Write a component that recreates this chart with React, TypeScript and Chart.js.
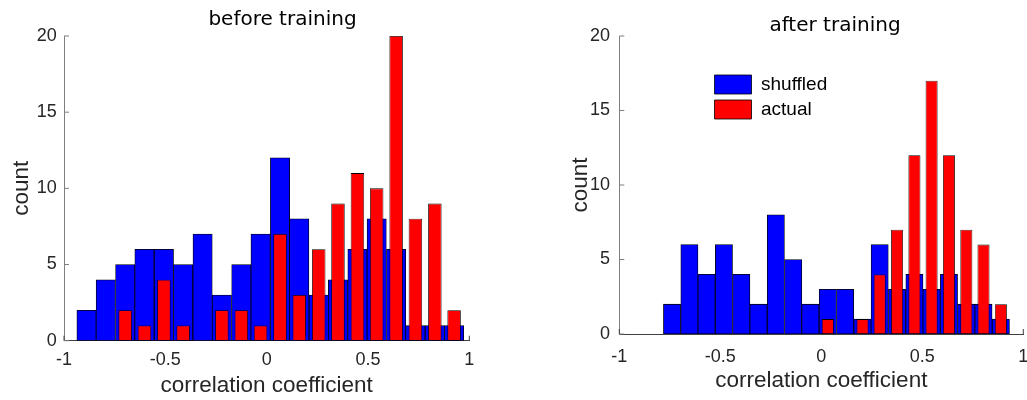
import React, { useEffect, useRef } from 'react';
import { Chart, registerables } from 'chart.js';

Chart.register(...registerables);

// ---------- data ----------
const seriesNames = ['shuffled', 'actual'];
const panelTitles = ['before training', 'after training'];
const xAxisLabel = 'correlation coefficient';
const yAxisLabel = 'count';
const xTickValues = [-1, -0.5, 0, 0.5, 1];
const xTickLabels = ['-1', '-0.5', '0', '0.5', '1'];
const yTickValues = [0, 5, 10, 15, 20];
const yTickLabels = ['0', '5', '10', '15', '20'];

const beforeBinCenters = [-0.889, -0.794, -0.698, -0.603, -0.507, -0.412, -0.316, -0.221, -0.125, -0.030,
  0.066, 0.161, 0.257, 0.352, 0.448, 0.543, 0.639, 0.734, 0.830, 0.925];
const beforeShuffled = [2, 4, 5, 6, 6, 5, 7, 3, 5, 7, 12, 8, 3, 4, 6, 8, 6, 1, 1, 1];
const beforeActual = [0, 0, 2, 1, 4, 1, 0, 2, 2, 1, 7, 3, 6, 9, 11, 10, 20, 8, 9, 2];

const afterBinCenters = [-0.739, -0.653, -0.568, -0.482, -0.396, -0.311, -0.225, -0.139, -0.054, 0.032,
  0.118, 0.204, 0.289, 0.375, 0.461, 0.546, 0.632, 0.718, 0.803, 0.889];
const afterShuffled = [2, 6, 4, 6, 4, 2, 8, 5, 2, 3, 3, 1, 6, 3, 4, 3, 4, 2, 2, 1];
const afterActual = [0, 0, 0, 0, 0, 0, 0, 0, 0, 1, 0, 1, 4, 7, 12, 17, 12, 7, 6, 2];

// ---------- styling / layout ----------
const SANS = "'Liberation Sans', Arial, Helvetica, sans-serif";
const TITLE_FONT = "'DejaVu Sans', sans-serif";
const H = 400;

interface PanelCfg {
  title: string;
  centers: number[];
  shuffled: number[];
  actual: number[];
  canvasLeft: number;
  canvasWidth: number;
  area: { left: number; right: number; top: number; bottom: number };
  titleCx: number;
  titleMid: number;
  yTitleMid: number;
  yTickPad: number;
  xTickMid: number;
  xTitleMid: number;
  legend?: { boxLeft: number; top: number };
}

const panels: PanelCfg[] = [
  {
    title: panelTitles[0],
    centers: beforeBinCenters,
    shuffled: beforeShuffled,
    actual: beforeActual,
    canvasLeft: 0,
    canvasWidth: 520,
    area: { left: 64, right: 469.3, top: 36, bottom: 340.7 },
    titleCx: 282.5,
    titleMid: 20.2,
    yTitleMid: 21.3,
    yTickPad: 7.3,
    xTickMid: 360.3,
    xTitleMid: 385.5,
  },
  {
    title: panelTitles[1],
    centers: afterBinCenters,
    shuffled: afterShuffled,
    actual: afterActual,
    canvasLeft: 520,
    canvasWidth: 507,
    area: { left: 99.3, right: 503.3, top: 36, bottom: 334 },
    titleCx: 315,
    titleMid: 25.8,
    yTitleMid: 60.5,
    yTickPad: 9.3,
    xTickMid: 357.2,
    xTitleMid: 380.5,
    legend: { boxLeft: 194.5, top: 75 },
  },
];

const innerTicks = {
  id: 'innerTicks',
  beforeDatasetsDraw(chart: any) {
    const { ctx, chartArea, scales } = chart;
    const len = 5;
    ctx.save();
    ctx.lineWidth = 1;
    ctx.strokeStyle = '#404040';
    scales.x.ticks.forEach((t: any) => {
      const px = scales.x.getPixelForValue(t.value);
      ctx.beginPath();
      ctx.moveTo(px, chartArea.bottom);
      ctx.lineTo(px, chartArea.bottom - len);
      ctx.stroke();
    });
    ctx.strokeStyle = '#7f7f7f';
    scales.y.ticks.forEach((t: any) => {
      const py = scales.y.getPixelForValue(t.value);
      ctx.beginPath();
      ctx.moveTo(chartArea.left, py);
      ctx.lineTo(chartArea.left + len, py);
      ctx.stroke();
    });
    ctx.restore();
  },
};

function Panel({ cfg }: { cfg: PanelCfg }) {
  const ref = useRef<HTMLCanvasElement>(null);

  useEffect(() => {
    const titleFontSize = 20;
    const titlePadTop = cfg.titleMid - titleFontSize / 2;
    const titlePadBottom = cfg.area.top - titleFontSize - titlePadTop;
    const axisTitleSize = 22.5;
    const tickSize = 18;

    const layoutPlugin = {
      id: 'panelLayout',
      afterLayout(chart: any) {
        const t = chart.titleBlock;
        if (t) {
          t.left = cfg.titleCx - 150;
          t.right = cfg.titleCx + 150;
        }
        const lg = chart.legend;
        if (lg && cfg.legend) {
          const pad = 6;
          lg.left = cfg.legend.boxLeft - pad;
          lg.right = lg.left + 250;
          lg.top = cfg.legend.top - pad;
          lg.bottom = lg.top + 120;
          lg.width = 250;
          lg.height = 120;
        }
      },
    };

    const chart = new Chart(ref.current as HTMLCanvasElement, {
      type: 'bar',
      data: {
        datasets: [
          {
            label: seriesNames[0],
            data: cfg.centers.map((c, i) => ({ x: c, y: cfg.shuffled[i] })),
            backgroundColor: '#0000ff',
            borderColor: '#000000',
            borderWidth: 0.8,
            borderSkipped: false,
            barPercentage: 1,
            categoryPercentage: 1,
            grouped: false,
            order: 2,
          } as any,
          {
            label: seriesNames[1],
            data: cfg.centers.map((c, i) => ({ x: c, y: cfg.actual[i] })),
            backgroundColor: '#ff0000',
            borderColor: '#000000',
            borderWidth: 0.8,
            borderSkipped: false,
            barPercentage: 0.7,
            categoryPercentage: 1,
            grouped: false,
            order: 1,
          } as any,
        ],
      },
      options: {
        responsive: false,
        animation: false,
        devicePixelRatio: 1,
        layout: {
          padding: { left: 0, top: 0, bottom: 0, right: cfg.canvasWidth - cfg.area.right },
        },
        plugins: {
          title: {
            display: true,
            text: cfg.title,
            color: '#000000',
            font: { family: TITLE_FONT, size: titleFontSize, lineHeight: 1, weight: 'normal' },
            padding: { top: titlePadTop, bottom: titlePadBottom },
          },
          legend: {
            display: !!cfg.legend,
            position: 'chartArea' as any,
            align: 'start',
            labels: {
              boxWidth: 37,
              boxHeight: 19,
              padding: 6,
              color: '#000000',
              font: { family: SANS, size: 19 },
              sort: (a: any, b: any) => a.datasetIndex - b.datasetIndex,
            },
          },
          tooltip: { enabled: false },
        },
        scales: {
          x: {
            type: 'linear',
            min: -1,
            max: 1,
            offset: false,
            afterBuildTicks: (s: any) => {
              s.ticks = xTickValues.map((v) => ({ value: v }));
            },
            afterFit: (s: any) => {
              s.height = H - cfg.area.bottom;
              s.paddingLeft = 0;
              s.paddingRight = 0;
            },
            grid: { display: false, drawTicks: false },
            border: { display: true, color: '#404040', width: 1 },
            ticks: {
              color: '#262626',
              font: { family: SANS, size: tickSize, lineHeight: 1.2 },
              padding: cfg.xTickMid - cfg.area.bottom - (tickSize * 1.2) / 2,
              maxRotation: 0,
              autoSkip: false,
              callback: (_v: any, i: number) => xTickLabels[i],
            },
            title: {
              display: true,
              text: xAxisLabel,
              color: '#262626',
              font: { family: SANS, size: axisTitleSize, lineHeight: 1 },
              padding: { top: 0, bottom: H - cfg.xTitleMid - axisTitleSize / 2 },
            },
          },
          y: {
            type: 'linear',
            min: 0,
            max: 20,
            afterBuildTicks: (s: any) => {
              s.ticks = yTickValues.map((v) => ({ value: v }));
            },
            afterFit: (s: any) => {
              s.width = cfg.area.left;
              s.paddingTop = 0;
              s.paddingBottom = 0;
            },
            grid: { display: false, drawTicks: false },
            border: { display: true, color: '#7f7f7f', width: 1 },
            ticks: {
              color: '#262626',
              font: { family: SANS, size: tickSize },
              padding: cfg.yTickPad,
              callback: (_v: any, i: number) => yTickLabels[i],
            },
            title: {
              display: true,
              text: yAxisLabel,
              color: '#262626',
              font: { family: SANS, size: axisTitleSize, lineHeight: 1 },
              padding: { top: cfg.yTitleMid - axisTitleSize / 2, bottom: 0 },
            },
          },
        },
      } as any,
      plugins: [innerTicks, layoutPlugin],
    });

    return () => chart.destroy();
  }, [cfg]);

  return (
    <canvas
      ref={ref}
      width={cfg.canvasWidth}
      height={H}
      style={{ position: 'absolute', left: cfg.canvasLeft, top: 0, width: cfg.canvasWidth, height: H }}
    />
  );
}

export default function App() {
  return (
    <div
      style={{
        position: 'absolute',
        left: 0,
        top: 0,
        width: 1027,
        height: H,
        background: '#ffffff',
        overflow: 'hidden',
      }}
    >
      {panels.map((p) => (
        <Panel key={p.title} cfg={p} />
      ))}
    </div>
  );
}
